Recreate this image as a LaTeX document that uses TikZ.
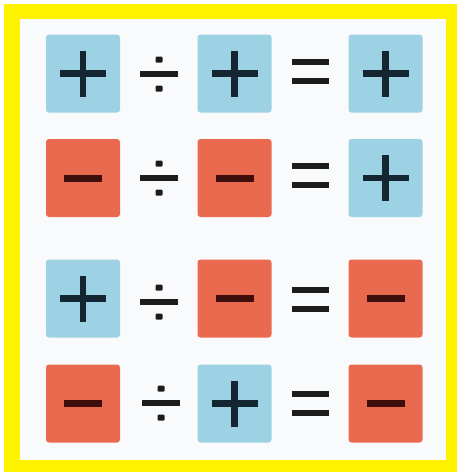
\documentclass[tikz,border=0pt]{standalone}
\definecolor{posblue}{HTML}{9DD1E4}
\definecolor{negred}{HTML}{EA6A50}
\definecolor{plusink}{HTML}{152633}
\definecolor{minusink}{HTML}{3E0F0C}
\definecolor{opink}{HTML}{1C1C1C}
\definecolor{panel}{HTML}{F9FAFB}
\begin{document}
\begin{tikzpicture}[x=1pt,y=-1pt,
  tile/.style={draw=none,rounded corners=3pt,minimum width=74pt,minimum height=78pt,inner sep=0pt},
  postile/.style={tile,fill=posblue},
  negtile/.style={tile,fill=negred},
  plusline/.style={draw=plusink,line width=6.5pt},
  minusline/.style={draw=minusink,line width=7pt},
  opline/.style={draw=opink,line width=5.5pt},
  dotmark/.style={fill=opink,rounded corners=1pt}]
\useasboundingbox (0,0) rectangle (457,472);
\fill[white] (0,0) rectangle (457,472);
\fill[yellow] (4,4) rectangle (457,472);
\fill[panel] (20,19) rectangle (446,460);
% positions
\def\ca{83}\def\cb{234.5}\def\cc{385.5}
\def\xdiv{159}\def\xeq{310}
% macros for signs
\newcommand{\plussign}[1]{\draw[plusline] ([xshift=-23pt]#1.center) -- ([xshift=23pt]#1.center);
  \draw[plusline] ([yshift=-23pt]#1.center) -- ([yshift=23pt]#1.center);}
\newcommand{\minussign}[1]{\draw[minusline] ([xshift=-19pt]#1.center) -- ([xshift=19pt]#1.center);}
\newcommand{\divsign}[1]{\draw[opline] ([xshift=-19pt]#1) -- ([xshift=19pt]#1);
  \fill[dotmark] ([xshift=-3.5pt,yshift=-17.5pt]#1) rectangle ([xshift=3.5pt,yshift=-11.5pt]#1);
  \fill[dotmark] ([xshift=-3.5pt,yshift=11.5pt]#1) rectangle ([xshift=3.5pt,yshift=17.5pt]#1);}
\newcommand{\eqsign}[1]{\draw[opline,line width=6pt] ([xshift=-18.5pt,yshift=-9.5pt]#1) -- ([xshift=18.5pt,yshift=-9.5pt]#1);
  \draw[opline,line width=6pt] ([xshift=-18.5pt,yshift=9.5pt]#1) -- ([xshift=18.5pt,yshift=9.5pt]#1);}
% row 1: + / + = +
\node[postile] (a1) at (\ca,73.5) {};
\node[postile] (b1) at (\cb,73.5) {};
\node[postile] (c1) at (\cc,73.5) {};
\coordinate (d1) at (\xdiv,74);
\coordinate (e1) at (\xeq,71);
% row 2: - / - = +
\node[negtile] (a2) at (\ca,178) {};
\node[negtile] (b2) at (\cb,178) {};
\node[postile] (c2) at (\cc,178) {};
\coordinate (d2) at (\xdiv,178);
\coordinate (e2) at (\xeq,175);
% row 3: + / - = -
\node[postile] (a3) at (\ca,298.5) {};
\node[negtile] (b3) at (\cb,298.5) {};
\node[negtile] (c3) at (\cc,298.5) {};
\coordinate (d3) at (\xdiv,302);
\coordinate (e3) at (\xeq,299);
% row 4: - / + = -
\node[negtile] (a4) at (\ca,403.5) {};
\node[postile] (b4) at (\cb,403.5) {};
\node[negtile] (c4) at (\cc,403.5) {};
\coordinate (d4) at (\xdiv+2,403);
\coordinate (e4) at (\xeq,403);
% signs
\plussign{a1}\plussign{b1}\plussign{c1}
\minussign{a2}\minussign{b2}\plussign{c2}
\plussign{a3}\minussign{b3}\minussign{c3}
\minussign{a4}\plussign{b4}\minussign{c4}
\divsign{d1}\divsign{d2}\divsign{d3}\divsign{d4}
\eqsign{e1}\eqsign{e2}\eqsign{e3}\eqsign{e4}
\end{tikzpicture}
\end{document}
